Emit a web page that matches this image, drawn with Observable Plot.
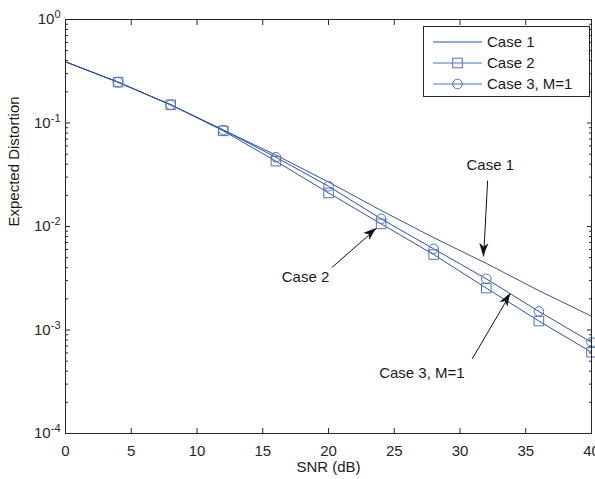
<!DOCTYPE html>
<html><head><meta charset="utf-8">
<script src="https://cdn.jsdelivr.net/npm/d3@7"></script>
<script src="https://cdn.jsdelivr.net/npm/@observablehq/plot@0.6"></script>
<style>
body{margin:0;background:#fff;}
#wrap{position:relative;width:595px;height:479px;font-family:"Liberation Sans",Arial,sans-serif;}
#wrap svg{overflow:visible}
</style></head><body><div id="wrap"></div>
<script>
// ---- data ----
const snr = [0, 4, 8, 12, 16, 20, 24, 28, 32, 36, 40];
const case1 = [0.39, 0.248, 0.150, 0.0855, 0.049, 0.0269, 0.0143, 0.0078, 0.0044, 0.0024, 0.00136];
const case2 = [0.39, 0.248, 0.150, 0.0840, 0.0428, 0.0211, 0.0106, 0.00536, 0.00254, 0.00122, 0.00061];
const case3 = [0.39, 0.248, 0.150, 0.0855, 0.0467, 0.0245, 0.01186, 0.00608, 0.00312, 0.00151, 0.00076];
const seriesNames = ["Case 1", "Case 2", "Case 3, M=1"];
const xTicks = [0, 5, 10, 15, 20, 25, 30, 35, 40];
const yTicks = [1e-4, 1e-3, 1e-2, 1e-1, 1];
const yTickExp = ["-4", "-3", "-2", "-1", "0"];
const xLabel = "SNR (dB)";
const yLabel = "Expected Distortion";
// annotations
const annText = ["Case 1", "Case 2", "Case 3, M=1"];
const annX = [32.3, 18.25, 27.1];
const annY = [0.0388, 0.00324, 0.00038];
const arrX1 = [32.1, 20.28, 30.93];
const arrY1 = [0.0278, 0.00404, 0.000527];
const arrX2 = [31.8, 23.65, 33.84];
const arrY2 = [0.00513, 0.00957, 0.00224];

const lineColor = "#2f52ad";
const markColor = "#4f72c2";
const axisColor = "#262626";
const FONT = 15;

const rows = snr.flatMap((s, i) => [
  {snr: s, v: case1[i], series: seriesNames[0]},
  {snr: s, v: case2[i], series: seriesNames[1]},
  {snr: s, v: case3[i], series: seriesNames[2]}
]);
const ann = annText.map((t, i) => ({t, x: annX[i], y: annY[i]}));
const arrows = arrX1.map((x1, i) => ({x1, y1: arrY1[i], x2: arrX2[i], y2: arrY2[i]}));
const minor = yTicks.slice(0, -1).flatMap(d => [2,3,4,5,6,7,8,9].map(k => k * d));
const expOf = new Map(yTicks.map((d, i) => [d, yTickExp[i]]));

const W = 595, H = 479, mL = 65, mR = 4, mT = 19, mB = 46;
const axisCommon = {stroke: axisColor, fill: axisColor, fontSize: FONT, label: null};
const marked = d => d.snr > 0;

const plot = Plot.plot({
  width: W, height: H,
  marginLeft: mL, marginRight: mR, marginTop: mT, marginBottom: mB,
  style: {fontFamily: '"Liberation Sans", Arial, sans-serif', fontSize: FONT + "px", color: axisColor, background: "white"},
  x: {domain: [0, 40]},
  y: {type: "log", domain: [1e-4, 1]},
  marks: [
    Plot.line(rows, {x: "snr", y: "v", z: "series", stroke: lineColor, strokeWidth: 1}),
    Plot.dot(rows.filter(d => d.series === seriesNames[1] && marked(d)), {x: "snr", y: "v", symbol: "square", r: 5.4, stroke: markColor, fill: "none", strokeWidth: 1}),
    Plot.dot(rows.filter(d => d.series === seriesNames[2] && marked(d)), {x: "snr", y: "v", symbol: "circle", r: 4.8, stroke: markColor, fill: "none", strokeWidth: 1}),
    Plot.frame({stroke: axisColor, strokeWidth: 1}),
    Plot.axisX({...axisCommon, anchor: "bottom", ticks: xTicks, tickSize: -5, tickPadding: 17}),
    Plot.axisX({...axisCommon, anchor: "top", ticks: xTicks, tickSize: -5, tickFormat: () => ""}),
    Plot.axisY({...axisCommon, anchor: "left", ticks: yTicks, tickSize: -5, tickPadding: 10, tickFormat: d => "10^" + expOf.get(d)}),
    Plot.axisY({...axisCommon, anchor: "left", ticks: minor, tickSize: -3, tickFormat: () => ""}),
    Plot.axisY({...axisCommon, anchor: "right", ticks: yTicks, tickSize: -5, tickFormat: () => ""}),
    Plot.axisY({...axisCommon, anchor: "right", ticks: minor, tickSize: -3, tickFormat: () => ""}),
    Plot.link(arrows, {x1: "x1", y1: "y1", x2: "x2", y2: "y2", stroke: "#111", strokeWidth: 1}),
    Plot.text(ann, {x: "x", y: "y", text: "t", fontSize: FONT, fill: "#1a1a1a"}),
    Plot.text([xLabel], {frameAnchor: "bottom", dy: 38, text: d => d, fontSize: FONT, fill: "#1a1a1a"}),
    Plot.text([yLabel], {frameAnchor: "left", dx: -51, rotate: -90, text: d => d, fontSize: FONT, fill: "#1a1a1a"})
  ]
});

// superscripts for the log tick labels
plot.querySelectorAll("text").forEach(t => {
  const m = /^10\^(-?\d+)$/.exec(t.textContent);
  if (!m) return;
  t.textContent = "";
  const ns = "http://www.w3.org/2000/svg";
  const a = document.createElementNS(ns, "tspan"); a.textContent = "10";
  const b = document.createElementNS(ns, "tspan"); b.textContent = m[1];
  b.setAttribute("dy", "-0.55em"); b.setAttribute("font-size", "11px");
  t.appendChild(a); t.appendChild(b);
});

// filled arrowheads, placed through the plot's scales
let sx, sy;
try { const X = plot.scale("x"), Y = plot.scale("y"); if (X && X.apply) { sx = X.apply; sy = Y.apply; } } catch (e) {}
if (!sx) {
  sx = d3.scaleLinear([0, 40], [mL, W - mR]);
  sy = d3.scaleLog([1e-4, 1], [H - mB, mT]);
}
const ns = "http://www.w3.org/2000/svg";
arrows.forEach(a => {
  const x1 = sx(a.x1), y1 = sy(a.y1), x2 = sx(a.x2), y2 = sy(a.y2);
  const len = Math.hypot(x2 - x1, y2 - y1), ux = (x2 - x1) / len, uy = (y2 - y1) / len;
  const nx = -uy, ny = ux, L = 13, Wd = 4.6, N = 0.72;
  const pts = [
    [x2, y2],
    [x2 - L * ux + Wd * nx, y2 - L * uy + Wd * ny],
    [x2 - N * L * ux, y2 - N * L * uy],
    [x2 - L * ux - Wd * nx, y2 - L * uy - Wd * ny]
  ];
  const p = document.createElementNS(ns, "polygon");
  p.setAttribute("points", pts.map(q => q.join(",")).join(" "));
  p.setAttribute("fill", "#111");
  plot.appendChild(p);
});

const wrap = document.getElementById("wrap");
wrap.appendChild(plot);

// legend overlay (top-right, inside the axes)
const lg = d3.select(wrap).append("svg")
  .attr("width", 168).attr("height", 72)
  .style("position", "absolute").style("left", "423px").style("top", "26px")
  .style("font-family", '"Liberation Sans", Arial, sans-serif');
lg.append("rect").attr("x", 0.5).attr("y", 0.5).attr("width", 166).attr("height", 70)
  .attr("fill", "white").attr("stroke", axisColor);
seriesNames.forEach((name, i) => {
  const cy = 16 + i * 21;
  lg.append("line").attr("x1", 10).attr("x2", 59).attr("y1", cy).attr("y2", cy)
    .attr("stroke", i === 0 ? lineColor : markColor).attr("stroke-width", 1);
  if (i === 1) lg.append("rect").attr("x", 34.5 - 4.8).attr("y", cy - 4.8).attr("width", 9.6).attr("height", 9.6)
    .attr("fill", "none").attr("stroke", markColor);
  if (i === 2) lg.append("circle").attr("cx", 34.5).attr("cy", cy).attr("r", 4.8)
    .attr("fill", "none").attr("stroke", markColor);
  lg.append("text").attr("x", 64).attr("y", cy).attr("dy", "0.35em")
    .attr("font-size", FONT).attr("fill", "#1a1a1a").text(name);
});
</script></body></html>
